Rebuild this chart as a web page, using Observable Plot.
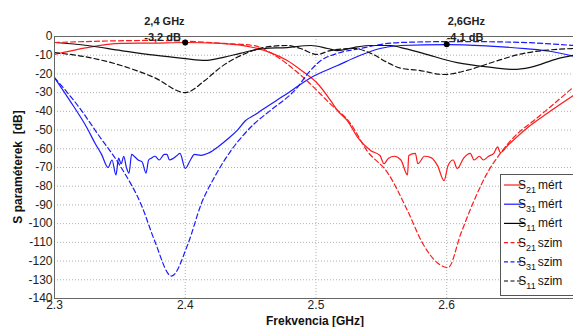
<!DOCTYPE html>
<html>
<head>
<meta charset="utf-8">
<script src="https://cdn.jsdelivr.net/npm/d3@7"></script>
<script src="https://cdn.jsdelivr.net/npm/@observablehq/plot@0.6"></script>
<style>
  html, body { margin: 0; padding: 0; background: #fff; }
  svg { display: block; }
</style>
</head>
<body>
<div id="chart"></div>
<script>
// ---- Data (frequency in GHz, S-parameters in dB) ----
const s21mFreq = [2.300,2.325,2.351,2.3765,2.400,2.427,2.452,2.465,2.478,2.4905,2.501,2.511,2.5165,2.524,2.532,2.542,2.549,2.552,2.5555,2.560,2.565,2.570,2.571,2.576,2.578,2.583,2.588,2.593,2.598,2.601,2.605,2.608,2.613,2.618,2.621,2.625,2.628,2.632,2.636,2.639,2.641,2.647,2.662,2.677,2.697];
const s21mVal  = [-9.6,-5.9,-3.7,-3.5,-3.2,-3.7,-5.9,-8.6,-12.8,-19,-25,-34,-39.6,-45,-54,-61,-63.6,-68,-65,-64,-66,-74,-63.6,-62.5,-68,-64,-64.7,-69,-77,-69,-66,-70.5,-65,-62.5,-66,-64,-66,-64,-62.5,-59,-62,-58,-48.6,-41,-31.5];

const s31mFreq = [2.300,2.3115,2.325,2.331,2.336,2.341,2.344,2.347,2.349,2.351,2.353,2.355,2.357,2.359,2.361,2.364,2.367,2.370,2.372,2.374,2.377,2.380,2.384,2.386,2.388,2.391,2.393,2.396,2.400,2.404,2.407,2.412,2.417,2.421,2.425,2.432,2.440,2.446,2.453,2.458,2.478,2.496,2.5165,2.534,2.549,2.565,2.600,2.630,2.660,2.680,2.697];
const s31mVal  = [-22,-34,-49,-57,-63,-70,-66,-74,-65,-68,-64,-70,-73,-63,-64,-66,-67,-73,-66,-65,-64,-66,-63,-63,-66,-65,-64,-62.5,-70.5,-66,-63,-63.5,-62.5,-61,-59,-55,-50,-45,-42,-39.6,-30.5,-22,-15.5,-10,-6.4,-4.8,-4.3,-5,-6.5,-8,-10.5];

const s11mFreq = [2.300,2.325,2.351,2.3765,2.400,2.415,2.430,2.442,2.460,2.478,2.496,2.509,2.5165,2.529,2.542,2.557,2.565,2.582,2.608,2.634,2.651,2.664,2.685,2.697];
const s11mVal  = [-3.2,-4.8,-7.5,-10,-11.8,-12.8,-11,-9,-6.4,-5.9,-4.8,-6.4,-7.5,-5.9,-4.8,-4.8,-5.9,-9,-14,-16.5,-17.6,-16.5,-11.8,-10];

const s21sFreq = [2.300,2.3765,2.400,2.430,2.452,2.465,2.4905,2.511,2.5265,2.539,2.555,2.570,2.582,2.593,2.601,2.611,2.621,2.631,2.641,2.654,2.6665,2.682,2.697];
const s21sVal  = [-3.2,-2.1,-2.5,-3.7,-4.8,-8.6,-22,-36,-46.6,-61,-73,-93,-111,-121,-123.5,-105,-87.6,-73,-62.5,-52,-45,-36,-27];

const s31sFreq = [2.300,2.319,2.333,2.351,2.367,2.3765,2.3895,2.402,2.4125,2.4225,2.435,2.453,2.465,2.486,2.4935,2.5035,2.5165,2.534,2.555,2.565,2.608,2.650,2.697];
const s31sVal  = [-22,-38,-52,-70,-91,-109,-128,-111,-89,-75,-61,-46.5,-39.6,-27,-20,-13,-9,-6.4,-3.7,-3.2,-2.7,-3,-4.8];

const s11sFreq = [2.300,2.325,2.351,2.3765,2.400,2.415,2.427,2.440,2.452,2.465,2.478,2.488,2.501,2.511,2.529,2.542,2.555,2.565,2.578,2.598,2.616,2.634,2.659,2.697];
const s11sVal  = [-8.6,-11,-15.5,-22,-30,-23.5,-16.5,-11,-7.5,-5.3,-4.8,-6.4,-9.6,-7.5,-6.4,-9,-14,-17,-18,-20.3,-18,-14,-9,-6.4];

const xTicks = [2.3, 2.4, 2.5, 2.6];
const yTicks = d3.range(-140, 1, 10);

const markerFreq = [2.4, 2.6];
const markerVal  = [-3.2, -4.1];
const markerFreqLabel = ["2,4 GHz", "2,6GHz"];
const markerValLabel  = ["-3,2 dB", "-4,1 dB"];

const legendSub  = ["21", "31", "11", "21", "31", "11"];
const legendKind = ["mért", "mért", "mért", "szim", "szim", "szim"];
const legendColor = ["#ff1a1a", "#1a1aff", "#000000", "#ff1a1a", "#1a1aff", "#000000"];
const legendDash  = [null, null, null, "4,2.5", "4,2.5", "4,2.5"];

// ---- Build tables ----
const zip = (f, v) => f.map((x, i) => ({x, y: v[i]}));
const series = [
  {data: zip(s21mFreq, s21mVal), color: "#ff1a1a", dash: null},
  {data: zip(s31mFreq, s31mVal), color: "#1a1aff", dash: null},
  {data: zip(s11mFreq, s11mVal), color: "#111111", dash: null},
  {data: zip(s21sFreq, s21sVal), color: "#ff1a1a", dash: "5,3"},
  {data: zip(s31sFreq, s31sVal), color: "#1a1aff", dash: "5,3"},
  {data: zip(s11sFreq, s11sVal), color: "#111111", dash: "5,3"}
];
const markers = markerFreq.map((x, i) => ({x, y: markerVal[i], f: markerFreqLabel[i], v: markerValLabel[i]}));

const chart = Plot.plot({
  width: 573,
  height: 327,
  marginLeft: 54,
  marginTop: 36,
  marginRight: 0,
  marginBottom: 29,
  style: {fontFamily: "'Liberation Sans', Arial, sans-serif", fontSize: "12px", color: "#000", background: "#fff"},
  x: {domain: [2.3, 2.697], label: null},
  y: {domain: [-140, 0], label: null},
  marks: [
    Plot.gridY(yTicks.filter(d => d > -140 && d < 0), {stroke: "#b0b0b0", strokeOpacity: 1, strokeDasharray: "1,2"}),
    Plot.gridX(xTicks.filter(d => d > 2.3), {stroke: "#b0b0b0", strokeOpacity: 1, strokeDasharray: "1,2"}),
    Plot.axisY(yTicks, {tickSize: 0, tickPadding: 2, tickFormat: d => d3.format("d")(d).replace("−", "-"), fill: "#222", fontSize: 12}),
    Plot.axisX(xTicks, {tickSize: 0, tickPadding: 2, tickFormat: d3.format(".1f"), fill: "#222", fontSize: 12}),
    ...series.map(s => Plot.line(s.data, {
      x: "x", y: "y", stroke: s.color, strokeWidth: 1.2,
      strokeDasharray: s.dash, curve: "monotone-x"
    })),
    Plot.ruleY([0, -140], {stroke: "#666"}),
    Plot.ruleX([2.3], {stroke: "#666"}),
    Plot.dot(markers, {x: "x", y: "y", r: 3, fill: "#000", stroke: null}),
    Plot.text(markers.slice(0, 1), {x: "x", y: "y", text: "f", dx: -41, dy: -21, textAnchor: "start", fontWeight: "bold", fontSize: 11, fill: "#222"}),
    Plot.text(markers.slice(0, 1), {x: "x", y: "y", text: "v", dx: -41, dy: -5, textAnchor: "start", fontWeight: "bold", fontSize: 11, fill: "#222"}),
    Plot.text(markers.slice(1), {x: "x", y: "y", text: "f", dx: 1, dy: -23, textAnchor: "start", fontWeight: "bold", fontSize: 11, fill: "#222"}),
    Plot.text(markers.slice(1), {x: "x", y: "y", text: "v", dx: 0, dy: -7, textAnchor: "start", fontWeight: "bold", fontSize: 11, fill: "#222"})
  ]
});

document.getElementById("chart").appendChild(chart);

// ---- Axis titles & legend (layout overlays) ----
const svg = d3.select(chart);
svg.append("text")
  .attr("transform", "translate(18,167) rotate(-90)")
  .attr("text-anchor", "middle").attr("dominant-baseline", "central")
  .attr("font-weight", "bold").attr("font-size", 12)
  .attr("font-family", "'Liberation Sans', Arial, sans-serif")
  .attr("fill", "#111")
  .text("S paraméterek  [dB]");
svg.append("text")
  .attr("x", 315).attr("y", 325)
  .attr("text-anchor", "middle")
  .attr("font-weight", "bold").attr("font-size", 12)
  .attr("font-family", "'Liberation Sans', Arial, sans-serif")
  .attr("fill", "#111")
  .text("Frekvencia [GHz]");

const lg = svg.append("g").attr("font-family", "'Liberation Sans', Arial, sans-serif").attr("fill", "#111");
lg.append("rect").attr("x", 500.5).attr("y", 174.5).attr("width", 90).attr("height", 121)
  .attr("fill", "#fff").attr("stroke", "#555");
legendSub.forEach((sub, i) => {
  const cy = 185 + i * 19.2;
  lg.append("line").attr("x1", 504).attr("x2", 525).attr("y1", cy).attr("y2", cy)
    .attr("stroke", legendColor[i]).attr("stroke-width", 1.2)
    .attr("stroke-dasharray", legendDash[i]);
  const t = lg.append("text").attr("x", 527).attr("y", cy + 4).attr("font-size", 12);
  t.append("tspan").text("S");
  t.append("tspan").attr("font-size", 9).attr("dy", 4).text(sub);
  lg.append("text").attr("x", 550).attr("y", cy + 4).attr("font-size", 12).text(legendKind[i]);
});
</script>
</body>
</html>
